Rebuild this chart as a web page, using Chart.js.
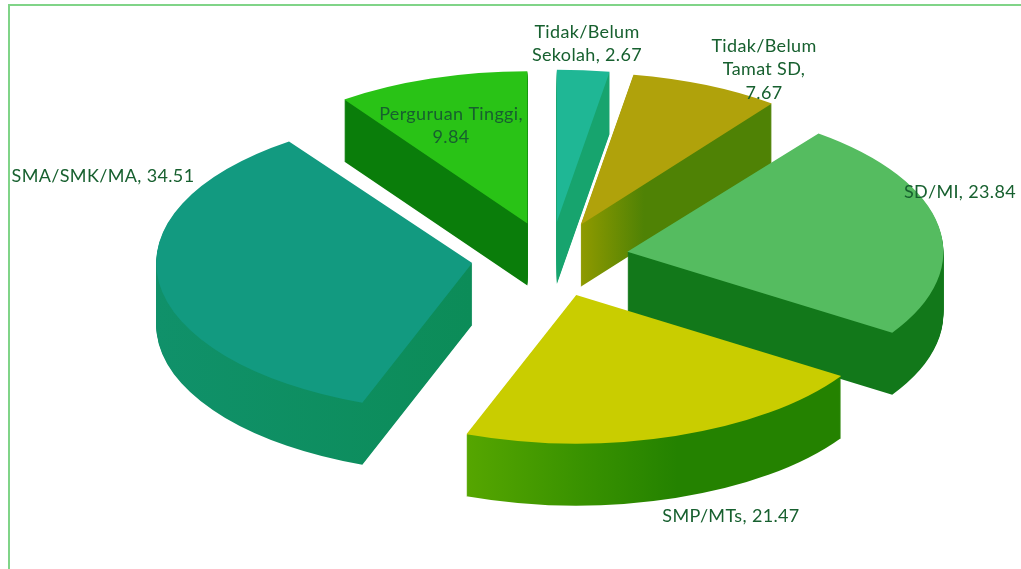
<!DOCTYPE html>
<html>
<head>
<meta charset="utf-8">
<script src="https://cdn.jsdelivr.net/npm/chart.js@4"></script>
<style>
html,body{margin:0;padding:0;background:#fff;overflow:hidden}
#wrap{position:relative;width:1021px;height:569px}
#frame{position:absolute;left:8px;top:4px;right:-5px;bottom:-5px;border:2px solid #80d488;box-sizing:border-box}
canvas{position:absolute;left:0;top:0}
</style>
</head>
<body>
<div id="wrap"><div id="frame"></div><canvas id="c" width="1021" height="569"></canvas></div>
<script>
const categories = ["Tidak/Belum Sekolah","Tidak/Belum Tamat SD","SD/MI","SMP/MTs","SMA/SMK/MA","Perguruan Tinggi"];
const values = [2.67,7.67,23.84,21.47,34.51,9.84];
const topColors = ["#1fb795","#b0a20b","#55bc60","#c9cd00","#129a80","#29c316"];
const labelLines = [
  ["Tidak/Belum","Sekolah, 2.67"],
  ["Tidak/Belum","Tamat SD,","7.67"],
  ["SD/MI, 23.84"],
  ["SMP/MTs, 21.47"],
  ["SMA/SMK/MA, 34.51"],
  ["Perguruan Tinggi,","9.84"]
];

const style = {
  offsetTilt: 0.475,
  tilts: [0.482,0.482,0.47,0.47,0.472,0.482],
  depth: 62,
  explode: [76,76,78,82,79,76],
  order: [0,1,5,2,4,3],
  sideStops: [
    [[0,"#17a46e"],[1,"#17a46e"]],
    [[0.5,"#8f9a00"],[0.6,"#4f8205"],[1,"#4f8205"]],
    [[0,"#12781a"],[1,"#12781a"]],
    [[0.28,"#5dab00"],[0.5,"#3a9300"],[0.66,"#248200"],[1,"#248200"]],
    [[0,"#10916a"],[0.5,"#0c8c58"],[1,"#0a8c50"]],
    [[0,"#0a7d0a"],[1,"#0a7d0a"]]
  ],
  labelPos: [[587,32],[764,46],[960,192],[731,516],[103,176],[451,114]],
  lineHeight: 23.5,
  font: "18px Lato",
  letterSpacing: "0.35px",
  textColor: "#17602f"
};

const pie3d = {
  id: "pie3d",
  beforeDatasetsDraw(chart) {
    const ctx = chart.ctx;
    const arcs = chart.getDatasetMeta(0).data;
    style.order.forEach(i => {
      const arc = arcs[i];
      const k = style.tilts[i];
      const mid = (arc.startAngle + arc.endAngle) / 2;
      const ox = Math.cos(mid) * style.explode[i];
      const oy = Math.sin(mid) * style.explode[i] * style.offsetTilt;
      const R = arc.outerRadius;
      const grad = ctx.createLinearGradient(arc.x - R, 0, arc.x + R, 0);
      style.sideStops[i].forEach(s => grad.addColorStop(s[0], s[1]));
      const base = {borderWidth:0,borderColor:"transparent",spacing:0,offset:0,borderRadius:0,circular:true,borderAlign:"center",borderJoinStyle:"round",selfJoin:false};
      const ghost = Object.create(arc);
      ghost.options = Object.assign({}, base, {backgroundColor: grad});
      for (let d = style.depth; d >= 0; d--) {
        if (d === 0) ghost.options = Object.assign({}, base, {backgroundColor: topColors[i]});
        ctx.save();
        ctx.translate(arc.x + ox, arc.y + oy + d);
        ctx.scale(1, k);
        ctx.translate(-arc.x, -arc.y);
        ghost.draw(ctx);
        ctx.restore();
      }
    });
    ctx.save();
    ctx.font = style.font;
    ctx.letterSpacing = style.letterSpacing;
    ctx.fillStyle = style.textColor;
    ctx.textAlign = "center";
    ctx.textBaseline = "middle";
    labelLines.forEach((lines, i) => {
      lines.forEach((t, j) => ctx.fillText(t, style.labelPos[i][0], style.labelPos[i][1] + j * style.lineHeight));
    });
    ctx.restore();
    return false;
  }
};

new Chart(document.getElementById("c"), {
  type: "pie",
  data: {labels: categories, datasets: [{data: values, backgroundColor: topColors, borderWidth: 0, radius: 316}]},
  options: {
    responsive: false,
    animation: false,
    layout: {padding: {left: 80, bottom: 53}},
    plugins: {legend: {display: false}, tooltip: {enabled: false}}
  },
  plugins: [pie3d]
});
</script>
</body>
</html>
